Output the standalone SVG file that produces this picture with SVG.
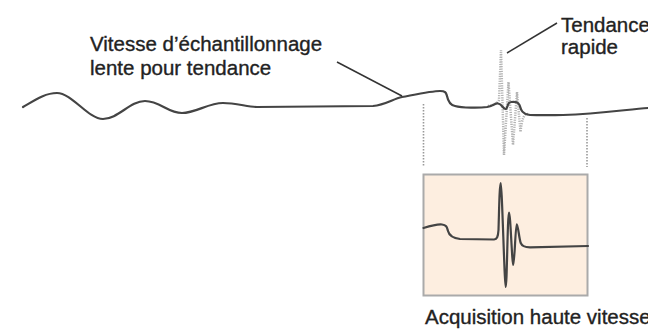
<svg xmlns="http://www.w3.org/2000/svg" width="648" height="330" viewBox="0 0 648 330">
<style>
.lbl{font-family:"Liberation Sans",Arial,sans-serif;font-size:20.5px;fill:#222;stroke:#222;stroke-width:0.35}
.trace{fill:none;stroke:#444;stroke-width:2.2;stroke-linejoin:round;stroke-linecap:round}
.fast{fill:none;stroke:#b3b3b3;stroke-width:2.5;stroke-dasharray:1.2 1.2}
.guide{fill:none;stroke:#999;stroke-width:1.6;stroke-dasharray:1.5 1.5}
.leader{fill:none;stroke:#333;stroke-width:1.5}
</style>
<rect width="648" height="330" fill="#fff"/>
<g id="slow-trend">
<path class="fast" d="M488,106 C494,105 497,104 499,100 L501,50 L504,155 L508.5,82 L513,145 L517,92 L520.5,132 C522,118 524,114 528,114"/>
<path class="trace" d="M23,107 C35,100 45,93 57,93 C72,93 88,119 103,119 C118,119 130,101 145,101 C160,101 168,113 182,113 C196,113 208,103 223,103 C236,103 248,107 257,107 L373,106 C385,105 393,99 402,97 C418,94 432,91 440,91 C446,91 446,93 447,96 C448,101 450,105 455,106 C462,108 480,108 487,107 C493,106 495,103 498,103.5 C502,104 503,109 505.5,109 C508,109 507,102 511,102 C516,101.5 518,102 519.5,105 C521,110 522,114 530,115 C545,115.5 555,115 563,115 C600,114 630,109 648,108"/>
</g>
<g id="guides">
<path class="guide" d="M423.5,104 V167 M587,118 V167"/>
</g>
<g id="acquisition-box">
<rect x="423.5" y="174.5" width="164" height="121" fill="#fdeee0" stroke="#aaa" stroke-width="2"/>
<path class="trace" d="M423.5,228 C430,226 437,224 442,224.5 C447,225 447,228 448,231 C449,235 452,238 460,239 L494,239.5 C497,239 498,237 498.5,230 C499,215 499.5,183 500.7,183 C502,183 504.5,287 505.7,287 C507,287 507.5,212.7 509,212.7 C510.5,212.7 512,265 513.3,265 C514.5,265 515.5,224.3 516.7,224.3 C518,224.3 519,238 520.7,243 C522,246 524,247 530,247.3 L588,246"/>
</g>
<g id="connectors">
<line class="leader" x1="337" y1="62" x2="402" y2="96"/>
<line class="leader" x1="507" y1="53" x2="557" y2="23"/>
</g>
<g id="label-slow">
<text class="lbl" x="90" y="51">Vitesse d’échantillonnage</text>
<text class="lbl" x="90" y="75">lente pour tendance</text>
</g>
<g id="label-fast">
<text class="lbl" x="561" y="32">Tendance</text>
<text class="lbl" x="561" y="54">rapide</text>
</g>
<g id="label-acq">
<text class="lbl" x="425" y="324">Acquisition haute vitesse</text>
</g>
</svg>
